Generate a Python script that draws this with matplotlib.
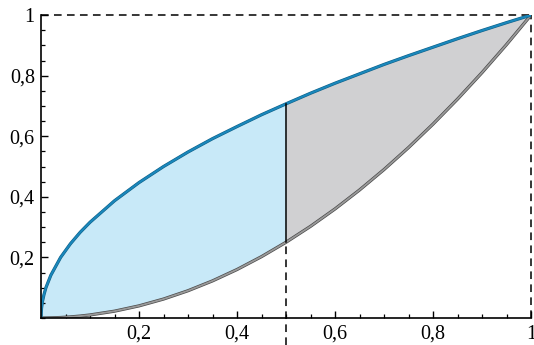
import matplotlib
matplotlib.use("Agg")
import matplotlib.pyplot as plt
from matplotlib.ticker import MultipleLocator, FixedLocator

# values
x_vals = [0, 0.001, 0.003, 0.006, 0.01, 0.02, 0.04, 0.06, 0.08, 0.1, 0.15, 0.2, 0.25,
          0.3, 0.35, 0.4, 0.45, 0.5, 0.55, 0.6, 0.65, 0.7, 0.75, 0.8, 0.85,
          0.9, 0.95, 1.0]
upper_vals = [0, 0.032, 0.055, 0.077, 0.1, 0.141, 0.2, 0.245, 0.283, 0.316, 0.387, 0.447, 0.5,
              0.548, 0.592, 0.632, 0.671, 0.707, 0.742, 0.775, 0.806, 0.837, 0.866,
              0.894, 0.922, 0.949, 0.975, 1.0]
lower_vals = [0, 0.0, 0.0, 0.0, 0.0001, 0.0004, 0.0016, 0.0036, 0.0064, 0.01, 0.0225, 0.04, 0.0625,
              0.09, 0.1225, 0.16, 0.2025, 0.25, 0.3025, 0.36, 0.4225, 0.49, 0.5625,
              0.64, 0.7225, 0.81, 0.9025, 1.0]
split_x = 0.5
tick_vals = [0.2, 0.4, 0.6, 0.8, 1.0]
tick_labels = ["0,2", "0,4", "0,6", "0,8", "1"]

plt.rcParams["font.family"] = ["Liberation Serif", "DejaVu Serif"]

fig = plt.figure(figsize=(5.34, 3.45), dpi=100)
ax = fig.add_axes([0.0768, 0.0783, 0.9176, 0.878])

n_split = x_vals.index(split_x)
# left part (light blue) and right part (grey)
ax.fill_between(x_vals[:n_split + 1], lower_vals[:n_split + 1], upper_vals[:n_split + 1],
                color="#c8e9f8", lw=0)
ax.fill_between(x_vals[n_split:], lower_vals[n_split:], upper_vals[n_split:],
                color="#d0d0d2", lw=0)

# grey curve with darker edge
ax.plot(x_vals, lower_vals, color="#4a4a4a", lw=2.3, solid_capstyle="round", zorder=3)
ax.plot(x_vals, lower_vals, color="#9a9a9a", lw=1.3, solid_capstyle="round", zorder=3)
# blue curve
ax.plot(x_vals, upper_vals, color="#0f5f86", lw=2.3, solid_capstyle="round", zorder=4)
ax.plot(x_vals, upper_vals, color="#1a87bb", lw=1.5, solid_capstyle="round", zorder=4)

# solid divider between the curves at x = 0.5
ax.plot([split_x, split_x], [lower_vals[n_split], upper_vals[n_split]],
        color="black", lw=1.1, zorder=5)
# dashed guides
dash = (0, (5, 3.5))
ax.plot([split_x, split_x], [-0.09, lower_vals[n_split]], color="black", lw=1.1,
        linestyle=dash, clip_on=False, zorder=5)
ax.plot([0, 1], [1, 1], color="black", lw=1.1, linestyle=dash, clip_on=False)
ax.plot([1, 1], [0, 1], color="black", lw=1.1, linestyle=dash, clip_on=False)

ax.set_xlim(0, 1)
ax.set_ylim(0, 1)
for s in ["top", "right"]:
    ax.spines[s].set_visible(False)
for s in ["left", "bottom"]:
    ax.spines[s].set_linewidth(1.2)
    ax.spines[s].set_zorder(6)

ax.xaxis.set_major_locator(FixedLocator(tick_vals))
ax.yaxis.set_major_locator(FixedLocator(tick_vals))
ax.set_xticklabels(tick_labels)
ax.set_yticklabels(tick_labels)
ax.xaxis.set_minor_locator(MultipleLocator(0.05))
ax.yaxis.set_minor_locator(MultipleLocator(0.05))
ax.tick_params(which="major", direction="in", length=5, width=1.0, labelsize=14.5)
ax.tick_params(axis="x", which="major", pad=5)
ax.tick_params(axis="y", which="major", pad=4.5)
ax.tick_params(which="minor", direction="in", length=3, width=0.9)

fig.savefig("out.png", dpi=100)
